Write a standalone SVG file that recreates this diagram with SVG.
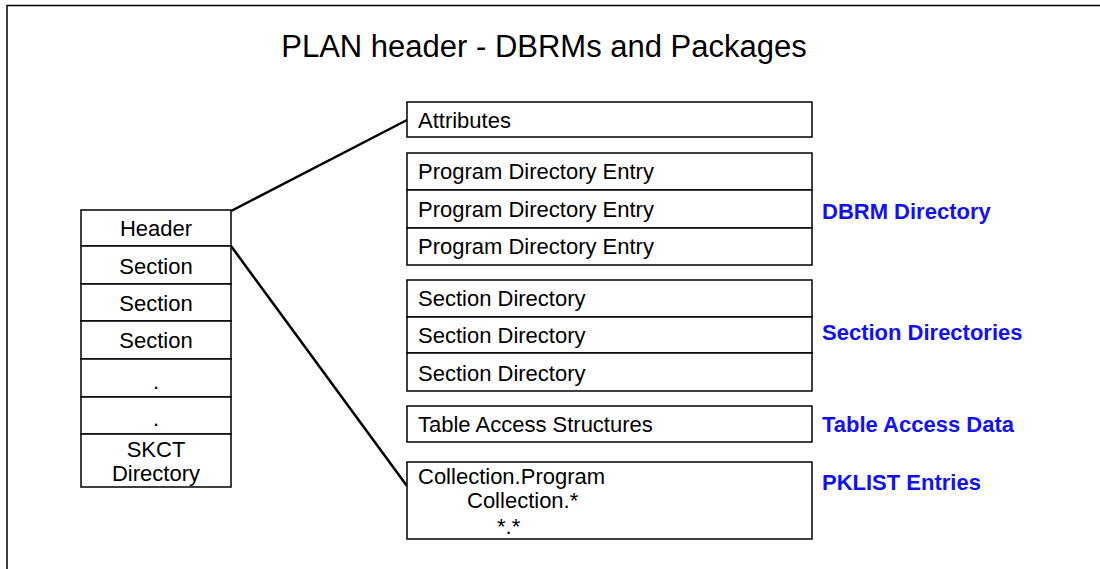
<svg xmlns="http://www.w3.org/2000/svg" width="1100" height="569" viewBox="0 0 1100 569">
  <style>
    .box { fill: #ffffff; stroke: #000000; stroke-width: 1.5; }
    .t { font-family: "Liberation Sans", Arial, sans-serif; font-size: 22px; fill: #000000; }
    .c { text-anchor: middle; }
    .lbl { font-family: "Liberation Sans", Arial, sans-serif; font-size: 22px; font-weight: bold; fill: #1010ff; }
    .conn { stroke: #000000; stroke-width: 2.5; fill: none; }
  </style>
  <rect width="1100" height="569" fill="#ffffff"/>
  <!-- frame -->
  <path d="M7,569 V5.5 H1100" fill="none" stroke="#000000" stroke-width="1.5"/>

  <text id="title" x="544" y="57" text-anchor="middle" font-family="Liberation Sans, Arial, sans-serif" font-size="31" fill="#000000">PLAN header - DBRMs and Packages</text>

  <!-- connectors -->
  <g id="connectors">
    <line class="conn" x1="231" y1="211" x2="407" y2="120"/>
    <line class="conn" x1="231" y1="246" x2="407" y2="486"/>
  </g>

  <!-- plan stack -->
  <g id="plan-stack">
    <rect class="box" x="81" y="210" width="150" height="36"/>
    <rect class="box" x="81" y="246" width="150" height="38"/>
    <rect class="box" x="81" y="284" width="150" height="37"/>
    <rect class="box" x="81" y="321" width="150" height="38"/>
    <rect class="box" x="81" y="359" width="150" height="38"/>
    <rect class="box" x="81" y="397" width="150" height="37"/>
    <rect class="box" x="81" y="434" width="150" height="53"/>
    <text class="t c" x="156" y="236">Header</text>
    <text class="t c" x="156" y="274">Section</text>
    <text class="t c" x="156" y="311">Section</text>
    <text class="t c" x="156" y="348">Section</text>
    <text class="t c" x="156" y="389">.</text>
    <text class="t c" x="156" y="426">.</text>
    <text class="t c" x="156" y="457">SKCT</text>
    <text class="t c" x="156" y="481">Directory</text>
  </g>

  <g id="attributes">
    <rect class="box" x="407" y="102" width="405" height="35"/>
    <text class="t" x="418" y="128">Attributes</text>
  </g>

  <g id="dbrm-directory">
    <rect class="box" x="407" y="153" width="405" height="37"/>
    <rect class="box" x="407" y="190" width="405" height="38"/>
    <rect class="box" x="407" y="228" width="405" height="37"/>
    <text class="t" x="418" y="179">Program Directory Entry</text>
    <text class="t" x="418" y="217">Program Directory Entry</text>
    <text class="t" x="418" y="254">Program Directory Entry</text>
    <text class="lbl" x="822" y="219">DBRM Directory</text>
  </g>

  <g id="section-directories">
    <rect class="box" x="407" y="280" width="405" height="37"/>
    <rect class="box" x="407" y="317" width="405" height="36"/>
    <rect class="box" x="407" y="353" width="405" height="38"/>
    <text class="t" x="418" y="306">Section Directory</text>
    <text class="t" x="418" y="343">Section Directory</text>
    <text class="t" x="418" y="381">Section Directory</text>
    <text class="lbl" x="822" y="340">Section Directories</text>
  </g>

  <g id="table-access">
    <rect class="box" x="407" y="406" width="405" height="36"/>
    <text class="t" x="418" y="432">Table Access Structures</text>
    <text class="lbl" x="822" y="432">Table Access Data</text>
  </g>

  <g id="pklist">
    <rect class="box" x="407" y="462" width="405" height="77"/>
    <text class="t" x="418" y="484">Collection.Program</text>
    <text class="t" x="467" y="508">Collection.*</text>
    <text class="t" x="497" y="534">*.*</text>
    <text class="lbl" x="822" y="490">PKLIST Entries</text>
  </g>
</svg>
